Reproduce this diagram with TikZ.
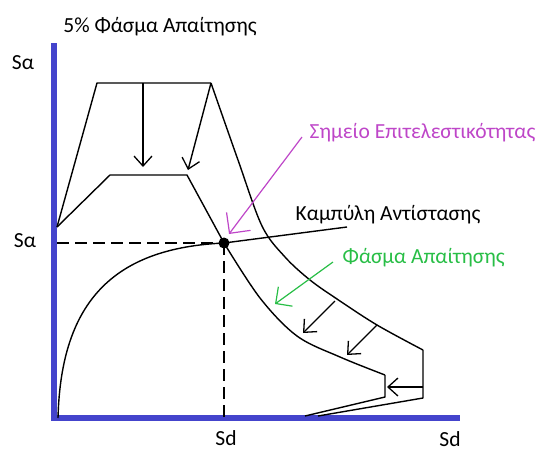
\documentclass[tikz,border=0pt]{standalone}
\usepackage{fontspec}
\setmainfont{Carlito}
\usetikzlibrary{arrows.meta}
\definecolor{axisblue}{RGB}{68,68,204}
\definecolor{ptmag}{RGB}{190,70,200}
\definecolor{spgreen}{RGB}{40,190,70}
\begin{document}
\begin{tikzpicture}[x=1pt,y=-1pt,line width=1.4pt,line join=round,
  arr/.style={-{Straight Barb[length=10pt,width=18pt,line width=1.3pt]}},
  garr/.style={spgreen,line width=1.2pt,-{Straight Barb[length=12pt,width=24pt,line width=1.2pt]}},
  marr/.style={ptmag,line width=1.2pt,-{Straight Barb[length=15pt,width=30pt,line width=1.2pt]}},
  lbl/.style={font=\fontsize{21.5}{24}\selectfont,inner sep=0pt},
  axisline/.style={axisblue,line width=6pt},
  dashguide/.style={dashed,dash pattern=on 12pt off 6pt,line width=2pt}]
\useasboundingbox (0,0) rectangle (544,453);
% axes
\coordinate (ytop) at (54,43);
\coordinate (orig) at (54,418);
\coordinate (xend) at (460,418);
\draw[axisline] (ytop) -- (54,421) ;
\draw[axisline] (51,418) -- (xend);
% labels
\node[lbl] (title) at (160,27) {5\% Φάσμα Απαίτησης};
\node[lbl] (sa1) at (23,63) {Sα};
\node[lbl] (sa2) at (25,241) {Sα};
\node[lbl] (sd1) at (226,438) {Sd};
\node[lbl] (sd2) at (450,439) {Sd};
\node[lbl,anchor=west,text=ptmag] (perf) at (309,133) {Σημείο Επιτελεστικότητας};
\node[lbl,anchor=west] (cap) at (295,215) {Καμπύλη Αντίστασης};
\node[lbl,anchor=west,text=spgreen] (dem) at (342,258) {Φάσμα Απαίτησης};
% key points
\coordinate (pga) at (57,227);
\coordinate (o1) at (97,83);
\coordinate (o2) at (211,83);
\coordinate (i1) at (110,175);
\coordinate (i2) at (187,175);
\coordinate (pp) at (224,243);
\coordinate (i6) at (385,375);
\coordinate (i7) at (385,397);
\coordinate (i8) at (305,416);
\coordinate (o6) at (423,350);
\coordinate (o7) at (423,398);
\coordinate (o8) at (318,416);
% 5% spectrum (outer)
\draw (pga) -- (o1) -- (o2);
\draw plot[smooth,tension=0.55] coordinates {(211,83) (238,160) (262,226) (285,257) (310,280) (337,299) (377,325) (423,350)};
\draw (o6) -- (o7) -- (o8);
% demand spectrum (inner)
\draw (pga) -- (i1) -- (i2) -- (pp);
\draw plot[smooth,tension=0.55] coordinates {(224,243) (260,298) (297,336) (340,357) (385,375)};
\draw (i6) -- (i7) -- (i8);
% reduction arrows
\coordinate (a1s) at (143,83);  \coordinate (a1e) at (143,167);
\coordinate (a2e) at (188,170);
\coordinate (a3s) at (335,301); \coordinate (a3e) at (303,333);
\coordinate (a4s) at (377,325); \coordinate (a4e) at (347,355);
\coordinate (a5s) at (423,387); \coordinate (a5e) at (387,387);
\draw[arr] (a1s) -- (a1e);
\draw[arr] (o2) -- (a2e);
\draw[arr] (a3s) -- (a3e);
\draw[arr] (a4s) -- (a4e);
\draw[arr] (a5s) -- (a5e);
% capacity curve
\coordinate (c0) at (58,418);
\coordinate (cend) at (347,227);
\draw (c0) .. controls (61,300) and (115,248) .. (pp) -- (cend);
% dashed guides
\coordinate (ya) at (57,243);
\coordinate (xd) at (224,418);
\draw[dashguide] (ya) -- (pp);
\draw[dashguide] (pp) -- (xd);
% performance point
\node[circle,fill=black,inner sep=0pt,minimum size=11pt] (ppdot) at (pp) {};
% label arrows
\coordinate (ms) at (302,137); \coordinate (me) at (229,234);
\draw[marr] (ms) -- (me);
\coordinate (gs) at (333,262); \coordinate (ge) at (275,304);
\draw[garr] (gs) -- (ge);
\end{tikzpicture}
\end{document}
